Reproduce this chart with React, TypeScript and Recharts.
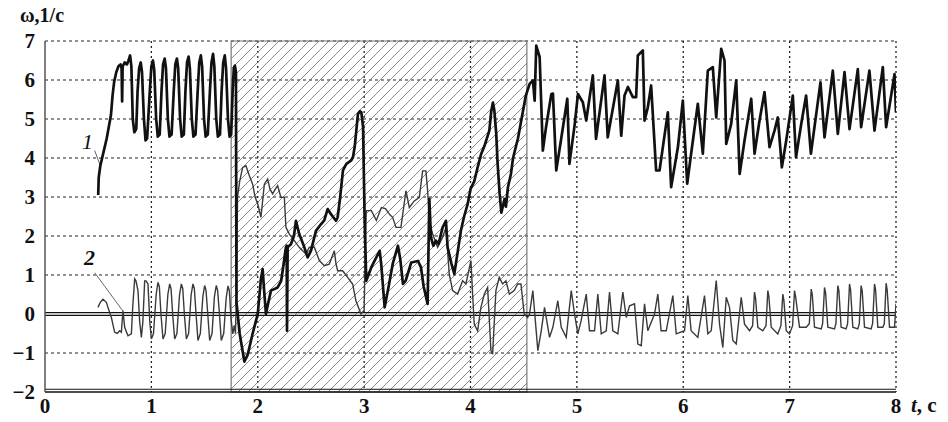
import React from 'react';
import {
  LineChart,
  Line,
  XAxis,
  YAxis,
  CartesianGrid,
  ReferenceArea,
  ReferenceLine,
} from 'recharts';

// axis ticks
const xTicks = [0, 1, 2, 3, 4, 5, 6, 7, 8];
const yTicks = [-2, -1, 0, 1, 2, 3, 4, 5, 6, 7];

// hatched interval (t, s)
const shadedFrom = 1.75;
const shadedTo = 4.53;

// curve 1 (thick): [t, omega]
const curve1Start: [number, number][] = [
  [0.5, 3.05], [0.505, 3.5], [0.52, 3.8], [0.55, 4.15], [0.58, 4.5], [0.6, 4.8], [0.62, 5.1],
  [0.635, 5.6], [0.65, 5.95], [0.67, 6.2], [0.69, 6.35], [0.71, 6.4], [0.72, 6.3], [0.725, 5.45],
  [0.73, 6.35], [0.75, 6.45], [0.77, 6.4], [0.785, 6.5], [0.8, 6.63], [0.812, 6.35], [0.825, 5.0],
  [0.84, 4.66], [0.858, 4.75], [0.87, 5.7], [0.885, 6.3], [0.9, 6.45], [0.912, 6.2], [0.93, 5.0],
  [0.945, 4.45], [0.96, 4.5], [0.985, 5.7], [1.0, 6.35], [1.015, 6.5], [1.027, 6.25], [1.045, 5.0],
  [1.06, 4.55], [1.078, 4.6], [1.095, 5.7], [1.11, 6.4], [1.125, 6.55], [1.137, 6.3], [1.155, 5.0],
  [1.17, 4.55], [1.19, 4.6], [1.21, 5.7], [1.225, 6.4], [1.24, 6.55], [1.252, 6.3], [1.27, 5.0],
  [1.285, 4.55], [1.305, 4.6], [1.32, 5.7], [1.335, 6.45], [1.35, 6.6], [1.362, 6.3], [1.38, 5.0],
  [1.395, 4.55], [1.415, 4.6], [1.435, 5.7], [1.45, 6.45], [1.465, 6.63], [1.477, 6.35], [1.495, 5.0],
  [1.51, 4.55], [1.53, 4.6], [1.55, 5.7], [1.565, 6.45], [1.58, 6.67], [1.592, 6.35], [1.61, 5.0],
  [1.625, 4.55], [1.645, 4.6], [1.66, 5.7], [1.675, 6.45], [1.69, 6.63], [1.702, 6.3], [1.72, 5.0],
  [1.735, 4.55], [1.75, 4.6], [1.765, 5.8], [1.775, 6.3], [1.785, 6.37], [1.795, 6.2],
];

const curve1Shaded: [number, number][] = [
  [1.8, 0.3], [1.83, -0.5], [1.874, -1.22], [1.905, -1.05], [1.952, -0.5], [2.0, 0.0], [2.03, 0.9],
  [2.046, 1.15], [2.06, 0.6], [2.077, 0.0], [2.1, 0.3], [2.124, 0.6], [2.187, 0.68], [2.22, 0.85],
  [2.234, 1.11], [2.265, 1.71], [2.272, 1.75], [2.275, -0.43], [2.281, 1.71], [2.312, 1.79],
  [2.34, 2.0], [2.359, 2.39], [2.39, 2.05], [2.438, 1.71], [2.469, 1.45], [2.5, 1.62], [2.547, 2.13],
  [2.594, 2.3], [2.625, 2.4], [2.657, 2.69], [2.688, 2.56], [2.735, 2.39], [2.751, 2.48], [2.775, 3.0],
  [2.801, 3.68], [2.833, 3.85], [2.876, 3.93], [2.895, 4.02], [2.911, 4.28], [2.942, 5.13], [2.96, 5.2],
  [2.974, 5.17], [2.99, 4.79], [3.005, 2.4], [3.02, 0.85], [3.068, 1.2], [3.146, 1.62], [3.16, 1.3],
  [3.193, 0.17], [3.23, 0.7], [3.27, 1.3], [3.318, 1.75], [3.34, 1.4], [3.365, 0.77], [3.39, 0.85],
  [3.443, 1.32], [3.506, 1.36], [3.534, 1.2], [3.56, 0.7], [3.597, 0.26], [3.613, 2.95], [3.628, 1.97],
  [3.65, 1.75], [3.675, 1.88], [3.7, 1.8], [3.738, 2.22], [3.769, 2.39], [3.785, 1.71], [3.82, 1.3],
  [3.848, 1.03], [3.88, 1.6], [3.91, 2.14], [3.94, 2.5], [3.973, 2.82], [4.0, 3.2], [4.035, 3.4],
  [4.067, 3.76], [4.1, 4.1], [4.13, 4.3], [4.177, 4.7], [4.195, 5.2], [4.211, 5.42], [4.224, 5.22],
  [4.242, 4.62], [4.255, 3.85], [4.274, 3.08], [4.29, 2.6], [4.32, 2.95], [4.333, 2.75], [4.352, 3.25],
  [4.38, 3.59], [4.4, 4.0], [4.446, 4.5], [4.493, 5.2], [4.52, 5.6],
];

const curve1End: [number, number][] = [
  [4.556, 5.9], [4.587, 5.99], [4.603, 5.47], [4.618, 6.88], [4.65, 6.59], [4.68, 4.19], [4.71, 4.79],
  [4.76, 5.64], [4.775, 5.65], [4.806, 3.68], [4.85, 4.45], [4.91, 5.52], [4.93, 3.85], [4.98, 4.87],
  [5.01, 5.64], [5.056, 5.43], [5.088, 4.96], [5.15, 6.12], [5.18, 4.49], [5.26, 6.12], [5.29, 4.53],
  [5.385, 5.99], [5.417, 4.57], [5.448, 5.6], [5.48, 5.82], [5.526, 5.56], [5.557, 5.56], [5.573, 6.63],
  [5.62, 6.76], [5.636, 4.96], [5.667, 5.3], [5.698, 5.86], [5.745, 3.68], [5.777, 3.68], [5.855, 5.17],
  [5.886, 3.25], [5.95, 4.28], [5.996, 5.47], [6.037, 3.34], [6.074, 4.11], [6.137, 5.39], [6.184, 4.11],
  [6.231, 6.24], [6.278, 6.33], [6.31, 5.04], [6.357, 6.8], [6.388, 6.5], [6.404, 4.36], [6.45, 4.87],
  [6.498, 5.99], [6.53, 3.59], [6.576, 4.45], [6.639, 5.52], [6.67, 4.11], [6.717, 4.96], [6.764, 5.69],
  [6.811, 4.28], [6.858, 4.7], [6.889, 5.04], [6.927, 3.76], [6.968, 4.45], [7.03, 5.6], [7.06, 4.02],
  [7.109, 4.87], [7.155, 5.6], [7.2, 4.11], [7.29, 5.94], [7.328, 4.53], [7.406, 6.24], [7.453, 4.62],
  [7.516, 6.2], [7.563, 4.74], [7.641, 6.28], [7.672, 4.79], [7.75, 6.24], [7.798, 4.7], [7.876, 6.33],
  [7.907, 4.79], [7.986, 6.15], [8.0, 5.17],
];

// curve 2 (thin): [t, omega]
const curve2Start: [number, number][] = [
  [0.498, 0.17], [0.52, 0.3], [0.545, 0.38], [0.577, 0.3], [0.6, 0.1], [0.624, -0.09], [0.655, -0.47],
  [0.68, -0.5], [0.702, -0.43], [0.718, -0.47], [0.733, 0.09], [0.749, -0.34], [0.78, -0.56],
  [0.812, -0.51], [0.825, 0.2], [0.843, 0.9], [0.855, 0.85], [0.874, 0.6], [0.89, -0.2], [0.906, -0.6],
  [0.92, -0.2], [0.937, 0.85], [0.95, 0.85], [0.968, 0.77], [0.985, -0.2], [1.0, -0.64], [1.02, -0.5],
  [1.045, 0.5], [1.062, 0.81], [1.075, 0.7], [1.09, 0.0], [1.109, -0.64], [1.13, -0.5], [1.155, 0.5],
  [1.172, 0.77], [1.185, 0.65], [1.2, 0.0], [1.219, -0.64], [1.24, -0.5], [1.265, 0.5], [1.282, 0.77],
  [1.295, 0.65], [1.31, 0.0], [1.329, -0.64], [1.35, -0.5], [1.374, 0.5], [1.391, 0.77], [1.404, 0.65],
  [1.42, 0.0], [1.438, -0.68], [1.46, -0.5], [1.484, 0.45], [1.501, 0.73], [1.514, 0.6], [1.53, 0.0],
  [1.548, -0.68], [1.57, -0.5], [1.593, 0.45], [1.61, 0.73], [1.623, 0.6], [1.64, 0.0], [1.657, -0.68],
  [1.68, -0.5], [1.703, 0.4], [1.72, 0.72], [1.733, 0.6], [1.748, -0.1], [1.765, -0.51],
];

const curve2Shaded: [number, number][] = [
  [1.78, -0.3], [1.79, -0.5], [1.8, 0.5], [1.81, 3.0], [1.83, 3.4], [1.858, 3.76], [1.889, 3.8],
  [1.92, 3.55], [1.952, 3.33], [1.975, 3.0], [2.0, 2.82], [2.03, 2.48], [2.062, 3.33], [2.093, 3.46],
  [2.115, 3.2], [2.14, 3.08], [2.165, 3.2], [2.187, 3.29], [2.218, 2.99], [2.25, 2.99], [2.265, 2.22],
  [2.297, 2.05], [2.344, 1.88], [2.39, 1.71], [2.422, 1.62], [2.453, 1.54], [2.485, 1.71], [2.532, 1.71],
  [2.579, 1.37], [2.626, 1.24], [2.672, 1.28], [2.72, 1.62], [2.735, 1.3], [2.751, 1.11], [2.798, 1.11],
  [2.845, 0.94], [2.892, 0.77], [2.923, 0.34], [2.97, 0.0], [3.0, 0.09], [3.01, 1.5], [3.02, 2.65],
  [3.068, 2.65], [3.115, 2.4], [3.162, 2.73], [3.2, 2.7], [3.24, 2.55], [3.268, 2.48], [3.3, 2.22],
  [3.346, 2.22], [3.37, 2.7], [3.393, 3.16], [3.425, 2.73], [3.472, 2.9], [3.519, 2.99], [3.55, 3.67],
  [3.581, 3.67], [3.597, 3.16], [3.613, 2.39], [3.644, 2.05], [3.691, 1.71], [3.738, 1.97], [3.769, 2.22],
  [3.8, 1.03], [3.832, 0.6], [3.879, 0.51], [3.926, 0.85], [3.957, 0.77], [4.004, 1.37], [4.02, 0.51],
  [4.035, -0.26], [4.067, -0.43], [4.098, 0.17], [4.13, 0.51], [4.161, 0.68], [4.192, -0.94],
  [4.208, -1.03], [4.239, 0.6], [4.27, 0.94], [4.302, 0.77], [4.333, 0.85], [4.365, 0.51], [4.411, 0.6],
  [4.443, 0.77], [4.474, 0.77], [4.505, 0.0], [4.537, -0.09],
];

const curve2End: [number, number][] = [
  [4.555, 0.0], [4.586, 0.6], [4.633, -0.94], [4.665, -0.43], [4.696, 0.17], [4.743, -0.6],
  [4.774, -0.34], [4.821, 0.34], [4.853, -0.34], [4.9, -0.6], [4.947, 0.6], [4.978, 0.0], [5.009, -0.51],
  [5.04, -0.17], [5.088, 0.51], [5.119, -0.43], [5.166, -0.43], [5.197, 0.51], [5.229, -0.51],
  [5.276, -0.43], [5.307, 0.56], [5.338, -0.43], [5.385, -0.51], [5.432, 0.56], [5.464, -0.09],
  [5.495, 0.21], [5.542, 0.26], [5.573, -0.77], [5.605, -0.81], [5.636, 0.26], [5.667, -0.43],
  [5.73, 0.0], [5.761, 0.51], [5.792, -0.43], [5.84, -0.43], [5.902, 0.47], [5.934, -0.51],
  [6.012, -0.43], [6.043, 0.47], [6.074, -0.43], [6.137, -0.6], [6.2, 0.47], [6.231, -0.51],
  [6.263, -0.43], [6.31, 0.86], [6.341, -0.26], [6.372, -0.86], [6.404, 0.43], [6.435, 0.17],
  [6.466, -0.68], [6.498, -0.77], [6.545, 0.43], [6.576, -0.26], [6.623, -0.43], [6.652, -0.3],
  [6.67, 0.56], [6.68, 0.4], [6.701, -0.34], [6.748, -0.43], [6.778, -0.3], [6.795, 0.6], [6.805, 0.45],
  [6.827, -0.34], [6.889, -0.51], [6.918, -0.3], [6.936, 0.51], [6.946, 0.35], [6.968, -0.43],
  [6.999, -0.51], [7.028, -0.3], [7.046, 0.6], [7.056, 0.45], [7.093, -0.34], [7.156, -0.34],
  [7.185, -0.25], [7.203, 0.64], [7.213, 0.5], [7.234, -0.34], [7.297, -0.38], [7.31, -0.25],
  [7.328, 0.68], [7.338, 0.55], [7.359, -0.34], [7.422, -0.38], [7.435, -0.25], [7.453, 0.73],
  [7.463, 0.6], [7.484, -0.34], [7.531, -0.38], [7.545, -0.25], [7.563, 0.77], [7.573, 0.62],
  [7.594, -0.34], [7.641, -0.38], [7.655, -0.25], [7.672, 0.73], [7.682, 0.6], [7.704, -0.34],
  [7.766, -0.38], [7.78, -0.25], [7.798, 0.77], [7.808, 0.62], [7.829, -0.34], [7.876, -0.34],
  [7.89, -0.25], [7.907, 0.79], [7.917, 0.62], [7.939, -0.34], [7.986, -0.34], [8.0, 0.26],
];

const toRows = (pts: [number, number][]) => pts.map(([t, w]) => ({ t, w }));

const curve1 = toRows([...curve1Start, ...curve1Shaded, ...curve1End]);
const curve2 = toRows([...curve2Start, ...curve2Shaded, ...curve2End]);

const serif = '"Liberation Serif", "DejaVu Serif", serif';
const tickStyle = { fontFamily: serif, fontSize: 21, fontWeight: 700, fill: '#111' };
const fmt = (v: number) => (v < 0 ? '\u2212' + Math.abs(v) : String(v));

const App: React.FC = () => {
  return (
    <div style={{ position: 'absolute', left: 0, top: 0, width: 948, height: 422, background: '#fff' }}>
      <LineChart width={948} height={422} margin={{ top: 41, right: 52, bottom: 0, left: 0 }}>
        <defs>
          <pattern id="hatch" patternUnits="userSpaceOnUse" width="10" height="10">
            <path d="M-1,1 l2,-2 M0,10 l10,-10 M9,11 l2,-2" stroke="#6a6a6a" strokeWidth="0.8" />
          </pattern>
        </defs>
        <ReferenceArea
          x1={shadedFrom}
          x2={shadedTo}
          y1={-2}
          y2={7}
          fill="url(#hatch)"
          fillOpacity={1}
          stroke="#777"
          strokeWidth={1.2}
        />
        {/* dashed horizontals, dotted verticals */}
        <CartesianGrid
          vertical={false}
          stroke="#222"
          strokeWidth={1.2}
          strokeDasharray="3 3"
          horizontalValues={[-1, 1, 2, 3, 4, 5, 6, 7]}
        />
        <CartesianGrid
          horizontal={false}
          stroke="#222"
          strokeWidth={1.3}
          strokeDasharray="2 3"
          verticalValues={[1, 2, 3, 4, 5, 6, 7, 8]}
        />
        <XAxis
          dataKey="t"
          type="number"
          domain={[0, 8]}
          ticks={xTicks}
          allowDataOverflow
          height={30}
          tickLine={false}
          tickSize={6}
          tickMargin={0}
          axisLine={{ stroke: '#111', strokeWidth: 1.3 }}
          tick={tickStyle}
        />
        <YAxis
          type="number"
          domain={[-2, 7]}
          ticks={yTicks}
          allowDataOverflow
          width={45}
          tickLine={false}
          tickMargin={4}
          tickFormatter={fmt}
          axisLine={{ stroke: '#555', strokeWidth: 1.5 }}
          tick={tickStyle}
        />
        <ReferenceLine y={-1.93} stroke="#111" strokeWidth={1.2} />
        <ReferenceLine y={0.035} stroke="#111" strokeWidth={1.1} />
        <ReferenceLine y={-0.035} stroke="#111" strokeWidth={1.1} />
        <ReferenceLine segment={[{ x: 0.467, y: 4.19 }, { x: 0.523, y: 3.78 }]} stroke="#666" strokeWidth={1} />
        <ReferenceLine segment={[{ x: 0.467, y: 1.06 }, { x: 0.73, y: 0.085 }]} stroke="#666" strokeWidth={1} />
        <Line
          data={curve2}
          dataKey="w"
          type="linear"
          stroke="#3a3a3a"
          strokeWidth={1.4}
          dot={false}
          isAnimationActive={false}
        />
        <Line
          data={curve1}
          dataKey="w"
          type="linear"
          stroke="#111"
          strokeWidth={2.7}
          strokeLinejoin="round"
          dot={false}
          isAnimationActive={false}
        />
      </LineChart>
      <div style={{ position: 'absolute', left: 20, top: 4, fontFamily: serif, fontSize: 20, fontWeight: 700, color: '#111' }}>
        ω,1/с
      </div>
      <div style={{ position: 'absolute', left: 911, top: 393, fontFamily: serif, fontSize: 21, fontWeight: 700, color: '#111' }}>
        <span style={{ fontStyle: 'italic' }}>t</span>, с
      </div>
      <div style={{ position: 'absolute', left: 82, top: 129, fontFamily: serif, fontSize: 22, fontStyle: 'italic', color: '#111' }}>
        1
      </div>
      <div style={{ position: 'absolute', left: 84, top: 245, fontFamily: serif, fontSize: 22, fontStyle: 'italic', fontWeight: 700, color: '#111' }}>
        2
      </div>
    </div>
  );
};

export default App;
